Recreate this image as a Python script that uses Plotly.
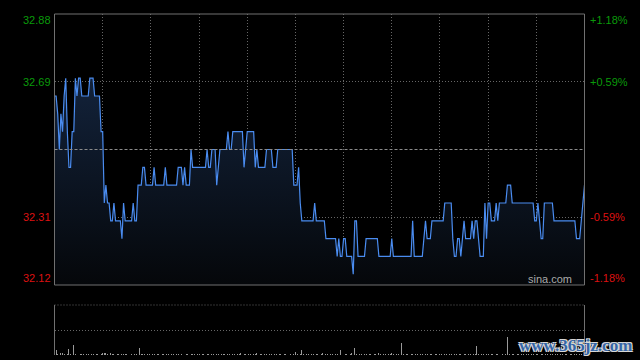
import plotly.graph_objects as go

# ---------------- data ----------------
# intraday minutes, 09:30-12:00 and 13:00-16:00 (HK session, 330 minutes)
minutes = list(range(331))

price = [
    32.65, 32.65, 32.60, 32.50, 32.60, 32.55, 32.65, 32.70, 32.55, 32.45,
    32.45, 32.55, 32.55, 32.70, 32.65, 32.70, 32.70, 32.65, 32.65, 32.65,
    32.65, 32.65, 32.70, 32.70, 32.70, 32.65, 32.65, 32.65, 32.65, 32.55,
    32.55, 32.35, 32.40, 32.35, 32.35, 32.30, 32.30, 32.35, 32.30, 32.30,
    32.30, 32.30, 32.25, 32.35, 32.30, 32.30, 32.30, 32.30, 32.30, 32.35,
    32.30, 32.30, 32.40, 32.40, 32.40, 32.45, 32.45, 32.40, 32.40, 32.40,
    32.40, 32.40, 32.45, 32.40, 32.40, 32.40, 32.40, 32.40, 32.40, 32.45,
    32.40, 32.40, 32.40, 32.40, 32.40, 32.40, 32.40, 32.45, 32.45, 32.45,
    32.40, 32.45, 32.40, 32.40, 32.40, 32.50, 32.45, 32.45, 32.45, 32.45,
    32.45, 32.45, 32.45, 32.45, 32.45, 32.50, 32.45, 32.45, 32.50, 32.50,
    32.50, 32.40, 32.45, 32.50, 32.50, 32.50, 32.50, 32.50, 32.55, 32.50,
    32.50, 32.55, 32.55, 32.55, 32.55, 32.55, 32.55, 32.55, 32.45, 32.50,
    32.55, 32.55, 32.55, 32.55, 32.55, 32.45, 32.50, 32.45, 32.45, 32.45,
    32.45, 32.45, 32.50, 32.50, 32.50, 32.50, 32.45, 32.45, 32.45, 32.50,
    32.50, 32.50, 32.50, 32.50, 32.50, 32.50, 32.50, 32.50, 32.50, 32.40,
    32.40, 32.40, 32.45, 32.35, 32.30, 32.30, 32.30, 32.30, 32.30, 32.30,
    32.30, 32.30, 32.35, 32.30, 32.30, 32.30, 32.30, 32.30, 32.30, 32.25,
    32.25, 32.25, 32.25, 32.25, 32.25, 32.25, 32.20, 32.25, 32.20, 32.20,
    32.25, 32.25, 32.20, 32.20, 32.20, 32.20, 32.15, 32.30, 32.30, 32.20,
    32.20, 32.20, 32.20, 32.20, 32.25, 32.25, 32.25, 32.25, 32.25, 32.25,
    32.25, 32.25, 32.20, 32.20, 32.20, 32.20, 32.20, 32.20, 32.20, 32.20,
    32.25, 32.20, 32.20, 32.20, 32.20, 32.20, 32.20, 32.20, 32.20, 32.20,
    32.20, 32.20, 32.20, 32.30, 32.20, 32.20, 32.20, 32.20, 32.20, 32.20,
    32.25, 32.30, 32.25, 32.25, 32.25, 32.30, 32.30, 32.30, 32.30, 32.30,
    32.30, 32.30, 32.30, 32.35, 32.35, 32.35, 32.35, 32.35, 32.25, 32.20,
    32.20, 32.25, 32.25, 32.20, 32.25, 32.30, 32.25, 32.25, 32.25, 32.25,
    32.30, 32.25, 32.30, 32.30, 32.25, 32.20, 32.20, 32.20, 32.35, 32.25,
    32.35, 32.35, 32.30, 32.30, 32.30, 32.35, 32.30, 32.35, 32.35, 32.35,
    32.35, 32.35, 32.40, 32.40, 32.40, 32.35, 32.35, 32.35, 32.35, 32.35,
    32.35, 32.35, 32.35, 32.35, 32.35, 32.35, 32.35, 32.35, 32.35, 32.30,
    32.30, 32.35, 32.30, 32.25, 32.25, 32.35, 32.35, 32.35, 32.35, 32.35,
    32.35, 32.30, 32.30, 32.30, 32.30, 32.30, 32.30, 32.30, 32.30, 32.30,
    32.30, 32.30, 32.30, 32.30, 32.30, 32.25, 32.25, 32.25, 32.30, 32.35,
    32.40,
]

volume = [
    2, 11, 2, 1, 5, 5, 2, 1, 2, 13,
    2, 1, 21, 2, 13, 1, 2, 2, 3, 1,
    2, 2, 1, 2, 2, 1, 2, 2, 1, 2,
    4, 5, 5, 2, 1, 4, 2, 2, 1, 2,
    2, 1, 2, 3, 2, 2, 1, 2, 2, 1,
    2, 2, 1, 15, 2, 3, 2, 1, 2, 2,
    1, 2, 2, 1, 2, 2, 1, 2, 2, 1,
    2, 2, 1, 2, 2, 1, 2, 2, 1, 2,
    2, 1, 2, 2, 1, 2, 3, 2, 1, 2,
    2, 1, 2, 2, 1, 2, 2, 1, 3, 2,
    1, 2, 2, 1, 2, 2, 3, 1, 2, 2,
    1, 2, 2, 1, 2, 2, 5, 1, 2, 2,
    1, 2, 2, 1, 2, 2, 5, 1, 2, 2,
    1, 2, 2, 1, 2, 2, 1, 2, 2, 1,
    2, 2, 1, 2, 2, 1, 2, 2, 1, 2,
    7, 2, 1, 2, 11, 2, 1, 2, 2, 1,
    2, 2, 1, 2, 2, 1, 2, 4, 1, 2,
    2, 1, 2, 2, 1, 2, 2, 1, 11, 2,
    1, 2, 2, 1, 2, 5, 1, 15, 2, 1,
    2, 2, 1, 2, 2, 1, 2, 2, 1, 2,
    2, 1, 4, 2, 1, 2, 2, 1, 2, 2,
    5, 2, 1, 2, 2, 1, 25, 2, 1, 2,
    2, 1, 2, 2, 1, 2, 2, 1, 2, 2,
    1, 2, 2, 1, 2, 2, 1, 2, 2, 1,
    2, 2, 1, 2, 2, 1, 2, 2, 1, 2,
    2, 1, 3, 2, 1, 2, 2, 1, 2, 2,
    1, 2, 2, 19, 2, 1, 3, 2, 1, 3,
    2, 1, 2, 2, 1, 2, 2, 1, 2, 2,
    1, 2, 37, 2, 1, 2, 2, 1, 2, 2,
    1, 2, 2, 1, 2, 2, 1, 2, 2, 1,
    2, 2, 1, 2, 2, 1, 2, 2, 1, 2,
    2, 1, 2, 2, 1, 2, 2, 1, 2, 2,
    1, 2, 2, 1, 2, 2, 1, 2, 2, 1,
    2,
]

prev_close = 32.50
left_tick_vals = [32.88, 32.69, 32.31, 32.12]
left_tick_text = ["32.88", "32.69", "32.31", "32.12"]
right_tick_text = ["+1.18%", "+0.59%", "-0.59%", "-1.18%"]
grid_minutes = [30, 60, 90, 120, 150, 180, 210, 240, 270, 300]

# ---------------- styling / layout ----------------
W, H = 640, 360
xd = [54.5 / W, 584.5 / W]
yd_main = [1 - 285 / H, 1 - 14 / H]
yd_vol = [1 - 355 / H, 1 - 305 / H]

GREEN = "#0a9a0a"
RED = "#dd1111"
GRID = "#666666"
BORDER = "#707070"
FONT = "Liberation Sans, Arial, sans-serif"

fig = go.Figure()

fig.add_trace(go.Scatter(
    x=minutes, y=price, mode="lines",
    line=dict(color="#4a8cf0", width=1.2),
    fill="tozeroy",
    fillgradient=dict(type="vertical",
                      colorscale=[[0, "rgb(5,7,10)"], [1, "rgb(19,35,60)"]],
                      start=32.12, stop=32.72),
    xaxis="x", yaxis="y", hoverinfo="skip", showlegend=False,
))

fig.add_trace(go.Bar(
    x=minutes, y=volume, width=0.6,
    marker=dict(color="#9a9a9a", line=dict(width=0)),
    xaxis="x2", yaxis="y2", hoverinfo="skip", showlegend=False,
))

axis_common = dict(showticklabels=False, ticks="", zeroline=False,
                   showline=False, fixedrange=True)

fig.update_layout(
    width=W, height=H,
    margin=dict(l=0, r=0, t=0, b=0),
    paper_bgcolor="black", plot_bgcolor="black",
    bargap=0,
    xaxis=dict(domain=xd, range=[0, 330], tickvals=grid_minutes,
               showgrid=True, gridcolor=GRID, griddash="1px,2px", gridwidth=1,
               anchor="y", **axis_common),
    yaxis=dict(domain=yd_main, range=[32.12, 32.88], tickvals=[32.31, 32.69],
               showgrid=True, gridcolor=GRID, griddash="1px,2px", gridwidth=1,
               anchor="x", **axis_common),
    xaxis2=dict(domain=xd, range=[0, 330], showgrid=False, anchor="y2",
                **axis_common),
    yaxis2=dict(domain=yd_vol, range=[0, 100], tickvals=[50],
                showgrid=True, gridcolor=GRID, griddash="1px,2px", gridwidth=1,
                anchor="x2", **axis_common),
)

shapes = [
    dict(type="rect", xref="x domain", yref="y domain", x0=0, x1=1, y0=0, y1=1,
         line=dict(color=BORDER, width=1)),
    dict(type="line", xref="x domain", yref="y", x0=0, x1=1,
         y0=prev_close, y1=prev_close,
         line=dict(color="#8c8c8c", width=1, dash="3px,2px")),
    dict(type="line", xref="x2 domain", yref="y2 domain", x0=0, x1=0, y0=0, y1=1,
         line=dict(color=BORDER, width=1)),
    dict(type="line", xref="x2 domain", yref="y2 domain", x0=1, x1=1, y0=0, y1=1,
         line=dict(color=BORDER, width=1)),
    dict(type="line", xref="x2 domain", yref="y2 domain", x0=0, x1=1, y0=1, y1=1,
         line=dict(color=GRID, width=1, dash="1px,2px")),
]
fig.update_layout(shapes=shapes)

annotations = []
shifts = [-6, 0, 0, 7]
colors = [GREEN, GREEN, RED, RED]
for v, lt, rt, s, c in zip(left_tick_vals, left_tick_text, right_tick_text, shifts, colors):
    annotations.append(dict(
        xref="paper", x=xd[0], xanchor="right", xshift=-2,
        yref="y", y=v, yanchor="middle", yshift=s,
        text=lt, showarrow=False, font=dict(family=FONT, size=11, color=c)))
    annotations.append(dict(
        xref="paper", x=xd[1], xanchor="left", xshift=3,
        yref="y", y=v, yanchor="middle", yshift=s,
        text=rt, showarrow=False, font=dict(family=FONT, size=11, color=c)))

annotations.append(dict(
    xref="paper", x=574 / W, xanchor="right",
    yref="paper", y=1 - 279 / H, yanchor="middle",
    text="sina.com", showarrow=False,
    font=dict(family=FONT, size=11, color="#aaaaaa")))

annotations.append(dict(
    xref="paper", x=575 / W, xanchor="center",
    yref="paper", y=1 - 345 / H, yanchor="middle",
    text="<b>www.365jz.com</b>", showarrow=False,
    font=dict(family="Liberation Serif, serif", size=17, color="#3566a8",
              shadow="1px 1px 0 #d8d8d8, -1px -1px 0 #d8d8d8, 1px -1px 0 #d8d8d8, -1px 1px 0 #d8d8d8")))

fig.update_layout(annotations=annotations)

fig.write_html(
    "out.html",
    config={"displayModeBar": False, "staticPlot": True},
    post_script="document.body.style.margin='0';document.body.style.padding='0';"
                "document.body.style.overflow='hidden';document.body.style.background='black';",
)
